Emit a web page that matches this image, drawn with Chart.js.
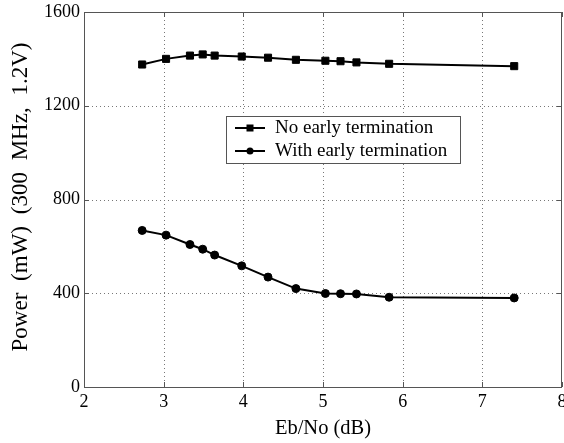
<!DOCTYPE html>
<html><head><meta charset="utf-8">
<script src="https://cdn.jsdelivr.net/npm/chart.js@4"></script>
<style>html,body{margin:0;padding:0;background:#fff}#wrap{width:564px;height:443px}</style>
</head><body><div id="wrap"><canvas id="c" width="564" height="443"></canvas></div>
<script>
const ebno = [2.73, 3.03, 3.33, 3.49, 3.64, 3.98, 4.31, 4.66, 5.03, 5.22, 5.42, 5.83, 7.40];
const noEarly = [1376, 1400, 1414, 1419, 1414, 1410, 1405, 1396, 1392, 1390, 1385, 1379, 1369];
const withEarly = [668, 648, 608, 588, 563, 517, 469, 420, 399, 398, 397, 383, 380];
const xTicks = [2, 3, 4, 5, 6, 7, 8];
const yTicks = [0, 400, 800, 1200, 1600];
const seriesLabels = ['No early termination', 'With early termination'];
const xTitle = 'Eb/No (dB)';
const yTitle = 'Power (mW) (300 MHz, 1.2V)';

const FONT = '"Liberation Serif", "Times New Roman", serif';

const framePlugin = {
  id: 'frame',
  beforeDatasetsDraw(chart) {
    const ctx = chart.ctx, a = chart.chartArea;
    const xs = chart.scales.x, ys = chart.scales.y;
    ctx.save();
    ctx.strokeStyle = '#777';
    ctx.lineWidth = 1;
    ctx.setLineDash([1, 3]);
    xTicks.slice(1, -1).forEach(v => {
      const px = Math.round(xs.getPixelForValue(v)) + 0.5;
      ctx.beginPath(); ctx.moveTo(px, a.top); ctx.lineTo(px, a.bottom); ctx.stroke();
    });
    yTicks.slice(1, -1).forEach(v => {
      const py = Math.round(ys.getPixelForValue(v)) + 0.5;
      ctx.beginPath(); ctx.moveTo(a.left, py); ctx.lineTo(a.right, py); ctx.stroke();
    });
    ctx.setLineDash([]);
    ctx.strokeStyle = '#555';
    ctx.strokeRect(Math.round(a.left) + 0.5, Math.round(a.top) + 0.5,
      Math.round(a.right - a.left) - 1, Math.round(a.bottom - a.top));
    const T = 5;
    xTicks.forEach(v => {
      const px = Math.round(xs.getPixelForValue(v)) + 0.5;
      ctx.beginPath();
      ctx.moveTo(px, a.bottom); ctx.lineTo(px, a.bottom - T);
      ctx.moveTo(px, a.top); ctx.lineTo(px, a.top + T);
      ctx.stroke();
    });
    yTicks.forEach(v => {
      const py = Math.round(ys.getPixelForValue(v)) + 0.5;
      ctx.beginPath();
      ctx.moveTo(a.left, py); ctx.lineTo(a.left + T, py);
      ctx.moveTo(a.right, py); ctx.lineTo(a.right - T, py);
      ctx.stroke();
    });
    ctx.restore();
  },
  afterDatasetsDraw(chart) {
    const ctx = chart.ctx;
    const bx = 226.5, by = 116.5, bw = 234, bh = 47;
    ctx.save();
    ctx.fillStyle = '#fff';
    ctx.fillRect(bx, by, bw, bh);
    ctx.strokeStyle = '#555';
    ctx.lineWidth = 1;
    ctx.strokeRect(bx, by, bw, bh);
    const rows = [128, 151];
    chart.data.datasets.forEach((ds, i) => {
      const y = rows[i];
      ctx.strokeStyle = '#000';
      ctx.lineWidth = 2;
      ctx.beginPath(); ctx.moveTo(235, y); ctx.lineTo(265, y); ctx.stroke();
      ctx.fillStyle = '#000';
      if (ds.pointStyle === 'rect') {
        ctx.fillRect(250 - 3.5, y - 3.5, 7, 7);
      } else {
        ctx.beginPath(); ctx.arc(250, y, 3.5, 0, Math.PI * 2); ctx.fill();
      }
      ctx.font = '19px ' + FONT;
      ctx.textBaseline = 'middle';
      ctx.textAlign = 'left';
      ctx.fillText(ds.label, 275, y);
    });
    ctx.translate(21, 197);
    ctx.rotate(-Math.PI / 2);
    ctx.font = '23px ' + FONT;
    ctx.fillStyle = '#000';
    ctx.textAlign = 'center';
    ctx.textBaseline = 'middle';
    if ('wordSpacing' in ctx) ctx.wordSpacing = '6px';
    ctx.fillText(yTitle, 0, 0);
    ctx.restore();
  }
};

new Chart(document.getElementById('c'), {
  type: 'line',
  data: {
    datasets: [
      {
        label: seriesLabels[0],
        data: ebno.map((x, i) => ({x, y: noEarly[i]})),
        borderColor: '#000', backgroundColor: '#000',
        borderWidth: 2, pointStyle: 'rect', pointRadius: 5, pointBorderWidth: 1,
        tension: 0
      },
      {
        label: seriesLabels[1],
        data: ebno.map((x, i) => ({x, y: withEarly[i]})),
        borderColor: '#000', backgroundColor: '#000',
        borderWidth: 2, pointStyle: 'circle', pointRadius: 4, pointBorderWidth: 1,
        tension: 0
      }
    ]
  },
  options: {
    responsive: false,
    devicePixelRatio: 1,
    animation: false,
    layout: {autoPadding: false, padding: {top: 12, right: 2, left: 0, bottom: 0}},
    plugins: {legend: {display: false}, tooltip: {enabled: false}},
    scales: {
      x: {
        type: 'linear', min: 2, max: 8,
        afterBuildTicks: s => { s.ticks = xTicks.map(v => ({value: v})); },
        afterFit: s => { s.height = 56; s.paddingLeft = 0; s.paddingRight = 0; },
        grid: {display: false, drawTicks: false},
        border: {display: false},
        ticks: {color: '#000', font: {family: FONT, size: 18}, padding: 4, maxRotation: 0,
                callback: v => String(v)},
        title: {display: true, text: xTitle, color: '#000', font: {family: FONT, size: 20.5, lineHeight: 1.2}, padding: {top: 0, bottom: 2}}
      },
      y: {
        min: 0, max: 1600,
        afterBuildTicks: s => { s.ticks = yTicks.map(v => ({value: v})); },
        afterFit: s => { s.width = 84; s.paddingTop = 0; s.paddingBottom = 0; },
        grid: {display: false, drawTicks: false},
        border: {display: false},
        ticks: {color: '#000', font: {family: FONT, size: 18}, padding: 4,
                callback: v => String(v)},
        title: {display: false, text: yTitle}
      }
    }
  },
  plugins: [framePlugin]
});
</script>
</body></html>
